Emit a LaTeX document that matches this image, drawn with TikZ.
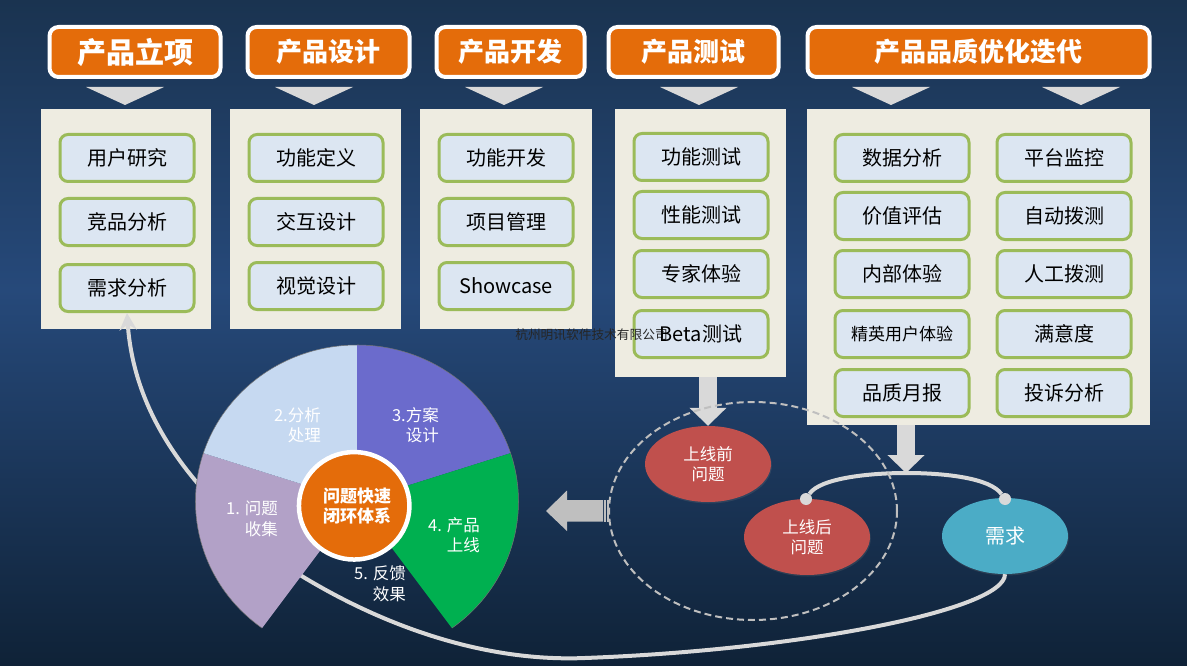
\documentclass[tikz,border=0pt]{standalone}
\usepackage{fontspec}
\setmainfont{Noto Sans CJK SC}
\usetikzlibrary{shadows,arrows.meta,shapes.geometric}
\definecolor{topbg}{HTML}{1A3350}
\definecolor{midbg}{HTML}{26497A}
\definecolor{botbg}{HTML}{0F2237}
\definecolor{orangebox}{HTML}{E46C0A}
\definecolor{panelbg}{HTML}{EEECE1}
\definecolor{itemfill}{HTML}{DCE6F2}
\definecolor{itemline}{HTML}{9BBB59}
\definecolor{lightgrey}{HTML}{D9D9D9}
\definecolor{midgrey}{HTML}{BFBFBF}
\definecolor{redell}{HTML}{C0504D}
\definecolor{blueell}{HTML}{4BACC6}
\definecolor{sectorA}{HTML}{B2A1C7}
\definecolor{sectorB}{HTML}{C6D9F1}
\definecolor{sectorC}{HTML}{6B6BCC}
\definecolor{sectorD}{HTML}{00B050}
\tikzset{
	softshadow/.style={drop shadow={shadow xshift=.8pt,shadow yshift=-1.5pt,opacity=.22}},
	titlebox/.style={draw=white,line width=4pt,fill=orangebox,rounded corners=9pt,text=white,
		font=\fontsize{26}{30}\selectfont\bfseries,minimum height=50pt,inner sep=0pt,softshadow},
	panel/.style={fill=panelbg,inner sep=0pt},
	item/.style={draw=itemline,line width=3pt,fill=itemfill,rounded corners=8pt,text=black,
		font=\fontsize{20}{24}\selectfont,minimum width=134pt,minimum height=47pt,inner sep=0pt},
	pointer/.style={fill=lightgrey},
	problem/.style={ellipse,minimum width=126pt,minimum height=76pt,inner sep=0pt,text=white,align=center,
		font=\fontsize{16.5}{20}\selectfont,softshadow},
	sectorlabel/.style={text=white,align=right,anchor=east,inner sep=0pt,font=\fontsize{16.5}{20.5}\selectfont},
	wheelradii/.style={x radius=161.5pt,y radius=156.5pt},
	bendline/.style={draw=lightgrey,line width=4pt},
	bigarrow/.style={draw=lightgrey,line width=18pt,-{Triangle[length=18pt,width=36pt]}},
	enddot/.style={circle,fill=lightgrey,minimum size=12pt,inner sep=0pt}
}
\begin{document}
\begin{tikzpicture}[x=1pt,y=-1pt]
\useasboundingbox (0,0) rectangle (1187,666);
\shade[top color=topbg,bottom color=midbg] (0,0) rectangle (1187,290);
\shade[top color=midbg,bottom color=botbg] (0,290) rectangle (1187,666);

\node[titlebox,minimum width=171pt,font=\fontsize{29}{32}\selectfont\bfseries] (t1) at (135,52) {产品立项};
\node[titlebox,minimum width=162pt] (t2) at (328.5,52) {产品设计};
\node[titlebox,minimum width=148pt] (t3) at (510.5,52) {产品开发};
\node[titlebox,minimum width=170pt] (t4) at (693.5,52) {产品测试};
\node[titlebox,minimum width=342pt] (t5) at (978.5,52) {产品品质优化迭代};

\fill[pointer] (86,87) -- (164,87) -- (125,105) -- cycle;
\fill[pointer] (275,87) -- (353,87) -- (314,105) -- cycle;
\fill[pointer] (465,87) -- (543,87) -- (504,105) -- cycle;
\fill[pointer] (660,87) -- (738,87) -- (699,105) -- cycle;
\fill[pointer] (852,87) -- (930,87) -- (891,105) -- cycle;
\fill[pointer] (1042,87) -- (1120,87) -- (1081,105) -- cycle;

\node[panel,minimum width=170pt,minimum height=220pt] (p1) at (126,219) {};
\node[panel,minimum width=171pt,minimum height=220pt] (p2) at (315.5,219) {};
\node[panel,minimum width=172pt,minimum height=220pt] (p3) at (506,219) {};
\node[panel,minimum width=171pt,minimum height=268pt] (p4) at (700.5,243) {};
\node[panel,minimum width=343pt,minimum height=316pt] (p5) at (978.5,267) {};

\node[item] (a1) at (127,158) {用户研究};
\node[item] (a2) at (127,222) {竞品分析};
\node[item] (a3) at (127,288) {需求分析};

\node[item] (b1) at (316,158) {功能定义};
\node[item] (b2) at (316,222) {交互设计};
\node[item] (b3) at (316,286) {视觉设计};

\node[item] (c1) at (506,158) {功能开发};
\node[item] (c2) at (506,222) {项目管理};
\node[item] (c3) at (506,286) {Showcase};

\node[item] (d1) at (701,157) {功能测试};
\node[item] (d2) at (701,215) {性能测试};
\node[item] (d3) at (701,274) {专家体验};
\node[item] (d4) at (701,334) {};
\node[text=black!85,inner sep=0pt,font=\fontsize{12.7}{15}\selectfont] (mark) at (591.5,334.5) {杭州明讯软件技术有限公司};
\node[text=black,inner sep=0pt,font=\fontsize{20}{24}\selectfont] (d4text) at (701,334) {Beta测试};

\node[item] (e1) at (902,158) {数据分析};
\node[item] (e2) at (902,216) {价值评估};
\node[item] (e3) at (902,274) {内部体验};
\node[item,font=\fontsize{17}{20}\selectfont] (e4) at (902,334) {精英用户体验};
\node[item] (e5) at (902,393) {品质月报};

\node[item] (f1) at (1064,158) {平台监控};
\node[item] (f2) at (1064,216) {自动拨测};
\node[item] (f3) at (1064,274) {人工拨测};
\node[item] (f4) at (1064,334) {满意度};
\node[item] (f5) at (1064,393) {投诉分析};

\node[problem,fill=redell] (before) at (708,464) {上线前\\问题};
\node[problem,fill=redell] (after) at (807,537) {上线后\\问题};
\node[problem,fill=blueell,font=\fontsize{20}{24}\selectfont] (need) at (1005,536) {需求};

\coordinate (archtop) at (906,473);
\node[enddot] (dotleft) at (806,499) {};
\node[enddot] (dotright) at (1005,499) {};
\draw[bigarrow] (before.north |- p4.south) -- (before.north);
\draw[bigarrow] (archtop |- p5.south) -- (archtop);
\draw[bendline] (dotleft) .. controls (820,478) and (870,473) .. (archtop) .. controls (945,473) and (990,478) .. (dotright);

\draw[bendline,-{Stealth[length=17pt,width=17pt]}] (need.south) .. controls (1005,610) and (800,650) .. (585,658) .. controls (490,662) and (390,630) .. (300,575) .. controls (210,510) and (135,430) .. (a3.south);

\node[draw=midgrey,line width=2pt,dash pattern=on 7pt off 4pt,ellipse,minimum width=288pt,minimum height=218pt,inner sep=0pt] (ring) at (753,511) {};

% arrow to the wheel
\fill[midgrey] (546,511) -- (567,490.5) -- (567,500) -- (603,500) -- (603,521.5) -- (567,521.5) -- (567,531) -- cycle;
\fill[midgrey] (604,500) rectangle (605.5,521.5);
\fill[midgrey] (606.5,500) rectangle (608.5,521.5);

% the wheel
\fill[sectorA] (357,501.5) -- +(162:161.5pt and 156.5pt) arc[start angle=162,end angle=234,wheelradii] -- cycle;
\fill[sectorB] (357,501.5) -- +(90:161.5pt and 156.5pt) arc[start angle=90,end angle=162,wheelradii] -- cycle;
\fill[sectorC] (357,501.5) -- +(18:161.5pt and 156.5pt) arc[start angle=18,end angle=90,wheelradii] -- cycle;
\fill[sectorD] (357,501.5) -- +(-54:161.5pt and 156.5pt) arc[start angle=-54,end angle=18,wheelradii] -- cycle;
\draw[black!55,line width=.5pt] (357,501.5) +(234:161.5pt and 156.5pt) arc[start angle=234,end angle=-54,wheelradii];

\node[sectorlabel] (s1) at (278,519) {1. 问题\\收集};
\node[sectorlabel] (s2) at (321,425) {2.分析\\处理};
\node[sectorlabel] (s3) at (439,425) {3.方案\\设计};
\node[sectorlabel] (s4) at (480,535) {4. 产品\\上线\hspace{1.7pt}};
\node[sectorlabel] (s5) at (406,584) {5. 反馈\hspace{3pt}\\效果};

\node[ellipse,draw=white,line width=4.5pt,fill=orangebox,minimum width=110.5pt,minimum height=107.5pt,inner sep=0pt,text=white,align=center,
	font=\fontsize{17}{20}\selectfont\bfseries,softshadow] (hub) at (354.2,505.8) {\hspace*{6pt}问题快速\\\hspace*{6pt}闭环体系};
\end{tikzpicture}
\end{document}
